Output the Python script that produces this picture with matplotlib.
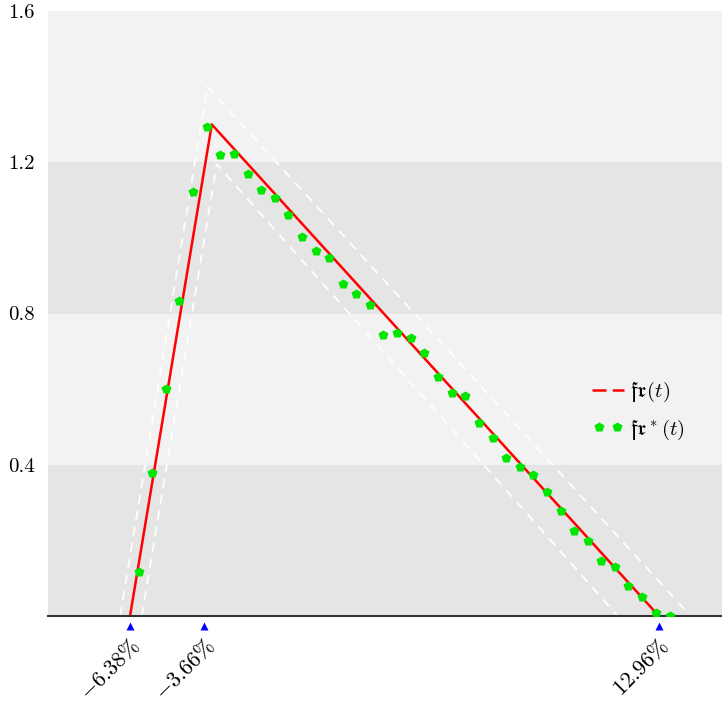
import numpy as np
import matplotlib
matplotlib.use("Agg")
import matplotlib.pyplot as plt
from matplotlib.lines import Line2D
from matplotlib.legend_handler import HandlerLine2D
from matplotlib.transforms import ScaledTranslation

plt.rcParams['font.family'] = 'serif'
plt.rcParams['font.serif'] = ['cmr10']
plt.rcParams['mathtext.fontset'] = 'cm'
plt.rcParams['axes.unicode_minus'] = False

# data
fr_x = [-6.38, -3.39, 12.96]
fr_y = [0.0, 1.30, 0.0]

upper_x = [-6.74, -3.55, 14.12]
upper_y = [0.0, 1.40, 0.0]
lower_x = [-5.95, -3.21, 11.46]
lower_y = [0.0, 1.195, 0.0]

frs_x = [-6.05, -5.56, -5.06, -4.58, -4.07, -3.58, -3.08, -2.59, -2.08, -1.59,
         -1.09, -0.59, -0.10, 0.41, 0.91, 1.41, 1.89, 2.40, 2.89, 3.39,
         3.88, 4.37, 4.87, 5.38, 5.88, 6.38, 6.88, 7.38, 7.88, 8.37,
         8.87, 9.37, 9.87, 10.37, 10.85, 11.35, 11.85, 12.35, 12.85, 13.35]
frs_y = [0.116, 0.378, 0.601, 0.834, 1.120, 1.292, 1.218, 1.221, 1.169, 1.126,
         1.105, 1.061, 1.001, 0.964, 0.947, 0.878, 0.852, 0.823, 0.743, 0.748,
         0.735, 0.695, 0.633, 0.589, 0.581, 0.510, 0.471, 0.418, 0.393, 0.372,
         0.328, 0.278, 0.226, 0.198, 0.146, 0.129, 0.079, 0.049, 0.009, 0.001]

mark_x = [-6.38, -3.66, 12.96]
mark_labels = [r'$-6.38\%$', r'$-3.66\%$', r'$12.96\%$']
y_ticks = [0.4, 0.8, 1.2, 1.6]

fig = plt.figure(figsize=(7.22, 7.06), dpi=100)
ax = fig.add_axes([48/722, 90/706, 1 - 48/722, 605/706])

# banded background
for k in range(4):
    ax.axhspan(0.4*k, 0.4*(k+1), color='#e5e5e5' if k % 2 == 0 else '#f2f2f2', lw=0, zorder=0)

ax.plot(upper_x, upper_y, color='white', lw=1.3, dashes=(5, 4), zorder=1)
ax.plot(lower_x, lower_y, color='white', lw=1.3, dashes=(5, 4), zorder=1)
ax.plot(fr_x, fr_y, color='red', lw=1.8, zorder=2)
ax.plot(frs_x, frs_y, ls='', marker='p', ms=7.5, color='#00e600', mec='none', zorder=3)
ax.plot(mark_x, [-0.027]*3, ls='', marker='^', ms=6, color='blue', mec='none', clip_on=False)

ax.set_xlim(-9.38, 15.27)
ax.set_ylim(0, 1.6)

for s in ['top', 'right', 'left']:
    ax.spines[s].set_visible(False)
ax.spines['bottom'].set_color('#333333')
ax.spines['bottom'].set_linewidth(1.5)

ax.set_yticks(y_ticks)
ax.set_yticklabels(['0.4', '0.8', '1.2', '1.6'])
ax.set_xticks(mark_x)
ax.set_xticklabels(mark_labels, rotation=45, ha='right', va='center', rotation_mode='anchor')
ax.tick_params(axis='y', length=0, pad=9.5, labelsize=15)
ax.tick_params(axis='x', length=0, pad=19, labelsize=16)
for lab in ax.get_xticklabels():
    lab.set_transform(lab.get_transform() + ScaledTranslation(0.07, 0, fig.dpi_scale_trans))

fr_handle = Line2D([], [], color='red', lw=1.8, ls=(0, (5.6, 2.5)))
frs_handle = Line2D([], [], ls='', marker='p', ms=7.5, color='#00e600', mec='none')
ax.legend([fr_handle, frs_handle], [r'$\mathfrak{fr}(t)$', r'$\mathfrak{fr}^*(t)$'],
          handler_map={fr_handle: HandlerLine2D(numpoints=1)},
          loc='center left', bbox_to_anchor=(0.78, 0.339), frameon=False, numpoints=2,
          fontsize=15, handlelength=1.5, handletextpad=0.3, labelspacing=0.65)

fig.savefig('out.png', dpi=100)
